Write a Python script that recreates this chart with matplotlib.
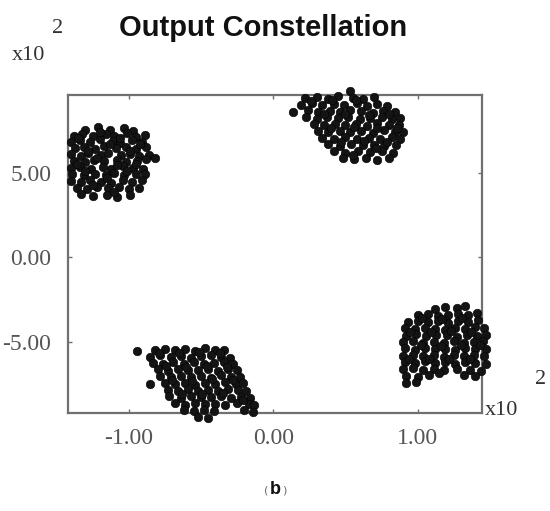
import matplotlib
matplotlib.use("Agg")
from matplotlib import pyplot as plt
from matplotlib.ticker import FormatStrFormatter

plt.rcParams['axes.unicode_minus'] = False

# received symbols (units of x10^2)
# top-left cluster
tl_x = [-1.30, -1.21, -1.13, -1.03, -0.97,
        -1.38, -1.32, -1.25, -1.16, -1.10, -1.01, -0.95, -0.89,
        -1.40, -1.34, -1.27, -1.20, -1.11, -1.06, -0.98, -0.91,
        -1.37, -1.31, -1.23, -1.17, -1.09, -1.02, -0.95, -0.88,
        -1.40, -1.33, -1.28, -1.19, -1.14, -1.05, -0.99, -0.93, -0.86,
        -1.38, -1.30, -1.24, -1.17, -1.08, -1.02, -0.94, -0.88, -0.82,
        -1.40, -1.34, -1.26, -1.18, -1.12, -1.04, -0.97, -0.90,
        -1.39, -1.31, -1.23, -1.16, -1.10, -1.03, -0.95, -0.89,
        -1.40, -1.33, -1.27, -1.19, -1.12, -1.04, -0.98, -0.91,
        -1.36, -1.29, -1.22, -1.14, -1.07, -1.00, -0.93,
        -1.33, -1.25, -1.15, -1.08, -0.99,
        -1.35, -1.20, -1.06, -0.92, -1.28, -1.13, -0.99, -1.36,
        -1.22, -1.08, -0.95, -1.30, -1.15, -1.01, -1.25, -1.10]
tl_y = [7.55, 7.68, 7.52, 7.62, 7.45,
        7.20, 7.31, 7.15, 7.28, 7.18, 7.34, 7.12, 7.22,
        6.85, 6.95, 6.80, 6.98, 6.88, 6.78, 6.93, 6.84,
        6.48, 6.55, 6.42, 6.58, 6.45, 6.52, 6.40, 6.50,
        6.10, 6.02, 6.15, 6.05, 6.18, 6.08, 6.12, 6.00, 6.06,
        5.72, 5.65, 5.78, 5.68, 5.74, 5.62, 5.70, 5.80, 5.85,
        5.28, 5.35, 5.22, 5.32, 5.25, 5.38, 5.30, 5.20,
        4.92, 4.85, 4.95, 4.88, 4.98, 4.86, 4.93, 4.90,
        4.52, 4.45, 4.55, 4.48, 4.42, 4.56, 4.47, 4.60,
        4.12, 4.05, 4.15, 4.08, 4.18, 4.02, 4.10,
        3.72, 3.62, 3.70, 3.58, 3.68,
        7.05, 7.42, 7.08, 6.70, 6.30, 6.68, 6.27, 5.50,
        5.90, 5.48, 5.52, 5.10, 4.70, 5.08, 4.30, 3.88]

# top-right cluster
tr_x = [0.53,
        0.22, 0.30, 0.38, 0.45, 0.55, 0.62, 0.70,
        0.19, 0.27, 0.34, 0.42, 0.49, 0.58, 0.65, 0.72, 0.79,
        0.14, 0.24, 0.31, 0.39, 0.46, 0.53, 0.61, 0.69, 0.76, 0.84,
        0.23, 0.30, 0.37, 0.45, 0.52, 0.60, 0.67, 0.75, 0.82, 0.88,
        0.28, 0.35, 0.43, 0.50, 0.57, 0.65, 0.72, 0.80, 0.87,
        0.31, 0.38, 0.46, 0.53, 0.61, 0.69, 0.77, 0.84, 0.90,
        0.34, 0.42, 0.50, 0.58, 0.66, 0.74, 0.82, 0.88,
        0.38, 0.46, 0.54, 0.62, 0.70, 0.77, 0.85,
        0.42, 0.50, 0.59, 0.67, 0.75, 0.83,
        0.48, 0.56, 0.64, 0.72, 0.80,
        0.26, 0.41, 0.57, 0.35, 0.50, 0.66, 0.80, 0.40,
        0.56, 0.72, 0.86, 0.47, 0.63, 0.79, 0.55, 0.71]
tr_y = [9.85,
        9.40, 9.50, 9.38, 9.55, 9.45, 9.35, 9.48,
        9.00, 9.10, 8.98, 9.08, 9.02, 9.12, 8.95, 9.05, 8.92,
        8.62, 8.70, 8.58, 8.68, 8.60, 8.72, 8.64, 8.55, 8.68, 8.60,
        8.28, 8.20, 8.30, 8.22, 8.32, 8.18, 8.26, 8.30, 8.20, 8.25,
        7.88, 7.80, 7.90, 7.82, 7.86, 7.78, 7.92, 7.84, 7.80,
        7.48, 7.40, 7.50, 7.42, 7.46, 7.38, 7.52, 7.44, 7.40,
        7.08, 7.00, 7.10, 7.02, 7.06, 6.98, 7.10, 7.02,
        6.68, 6.60, 6.70, 6.62, 6.66, 6.58, 6.64,
        6.28, 6.20, 6.30, 6.22, 6.26, 6.18,
        5.88, 5.80, 5.85, 5.78, 5.86,
        9.25, 9.28, 9.30, 8.45, 8.48, 8.42, 8.45, 7.65,
        7.68, 7.62, 7.66, 6.85, 6.88, 6.82, 6.05, 6.45]

# bottom-left cluster
bl_x = [-0.94, -0.82, -0.75, -0.68, -0.61, -0.54, -0.47, -0.40, -0.34,
        -0.85, -0.78, -0.71, -0.64, -0.57, -0.50, -0.43, -0.36, -0.30,
        -0.83, -0.76, -0.69, -0.62, -0.55, -0.48, -0.41, -0.34, -0.28,
        -0.80, -0.73, -0.66, -0.59, -0.52, -0.45, -0.38, -0.31, -0.25,
        -0.78, -0.71, -0.64, -0.57, -0.50, -0.43, -0.36, -0.29, -0.23,
        -0.85, -0.75, -0.68, -0.61, -0.54, -0.47, -0.40, -0.33, -0.26, -0.21,
        -0.73, -0.66, -0.59, -0.52, -0.45, -0.38, -0.31, -0.24, -0.19,
        -0.72, -0.64, -0.57, -0.50, -0.43, -0.36, -0.29, -0.22, -0.16,
        -0.68, -0.61, -0.54, -0.47, -0.40, -0.33, -0.25, -0.17, -0.13,
        -0.62, -0.55, -0.48, -0.41, -0.20, -0.14,
        -0.52, -0.45,
        -0.79, -0.65, -0.51, -0.37, -0.74, -0.60, -0.46, -0.32,
        -0.70, -0.56, -0.42, -0.28, -0.63, -0.49, -0.35, -0.21]
bl_y = [-5.55, -5.48, -5.40, -5.50, -5.42, -5.52, -5.38, -5.46, -5.50,
        -5.88, -5.80, -5.90, -5.82, -5.92, -5.84, -5.78, -5.88, -5.95,
        -6.22, -6.30, -6.20, -6.28, -6.18, -6.32, -6.24, -6.20, -6.30,
        -6.62, -6.70, -6.60, -6.68, -6.64, -6.58, -6.72, -6.62, -6.68,
        -7.02, -7.10, -7.00, -7.08, -7.04, -7.12, -6.98, -7.06, -7.10,
        -7.50, -7.42, -7.48, -7.40, -7.52, -7.44, -7.46, -7.38, -7.50, -7.45,
        -7.82, -7.90, -7.80, -7.88, -7.84, -7.92, -7.80, -7.86, -7.90,
        -8.22, -8.30, -8.20, -8.28, -8.24, -8.18, -8.32, -8.26, -8.30,
        -8.62, -8.70, -8.60, -8.68, -8.64, -8.72, -8.60, -8.66, -8.70,
        -9.02, -9.10, -9.00, -9.08, -9.05, -9.12,
        -9.42, -9.50,
        -5.65, -5.68, -5.62, -5.66, -6.45, -6.48, -6.42, -6.46,
        -7.25, -7.28, -7.22, -7.26, -8.05, -8.08, -8.02, -8.45]

# bottom-right cluster
br_x = [1.12, 1.19, 1.27, 1.33,
        1.00, 1.07, 1.14, 1.21, 1.28, 1.35, 1.41,
        0.93, 1.00, 1.07, 1.14, 1.21, 1.28, 1.35, 1.42,
        0.91, 0.98, 1.05, 1.12, 1.19, 1.26, 1.33, 1.40, 1.46,
        0.92, 0.99, 1.06, 1.13, 1.20, 1.27, 1.34, 1.41, 1.47,
        0.90, 0.97, 1.04, 1.11, 1.18, 1.25, 1.32, 1.39, 1.45,
        0.91, 0.98, 1.05, 1.12, 1.19, 1.26, 1.33, 1.40, 1.47,
        0.90, 0.97, 1.04, 1.11, 1.18, 1.25, 1.32, 1.39, 1.46,
        0.91, 0.98, 1.05, 1.12, 1.19, 1.26, 1.33, 1.40, 1.47,
        0.90, 0.97, 1.04, 1.11, 1.18, 1.27, 1.36, 1.44,
        0.92, 1.00, 1.08, 1.32, 1.40,
        0.92, 0.99,
        1.03, 1.17, 1.31, 0.95, 1.09, 1.23, 1.37, 1.02,
        1.16, 1.30, 1.43, 0.94, 1.08, 1.22, 1.36, 1.15]
br_y = [-3.05, -2.95, -3.02, -2.90,
        -3.42, -3.35, -3.45, -3.38, -3.32, -3.40, -3.30,
        -3.82, -3.75, -3.85, -3.78, -3.88, -3.74, -3.80, -3.72,
        -4.18, -4.25, -4.15, -4.22, -4.28, -4.16, -4.24, -4.12, -4.20,
        -4.62, -4.55, -4.65, -4.58, -4.60, -4.68, -4.56, -4.62, -4.58,
        -5.02, -4.95, -5.05, -4.98, -5.08, -4.96, -5.04, -5.00, -4.94,
        -5.38, -5.45, -5.35, -5.42, -5.40, -5.48, -5.36, -5.44, -5.40,
        -5.82, -5.75, -5.85, -5.78, -5.88, -5.76, -5.84, -5.80, -5.86,
        -6.18, -6.25, -6.15, -6.22, -6.20, -6.28, -6.16, -6.24, -6.30,
        -6.62, -6.55, -6.65, -6.58, -6.68, -6.60, -6.64, -6.70,
        -7.00, -7.08, -6.98, -6.95, -7.02,
        -7.40, -7.35,
        -3.60, -3.62, -3.58, -4.40, -4.42, -4.38, -4.40, -5.20,
        -5.22, -5.18, -5.20, -6.00, -6.02, -5.98, -6.00, -6.85]

xticks = [-1.0, 0.0, 1.0]
yticks = [-5.0, 0.0, 5.0]

fig = plt.figure(figsize=(5.5, 5.11), dpi=100)
ax = fig.add_axes([0.1236, 0.1918, 0.7527, 0.6223])

for cx, cy in [(tl_x, tl_y), (tr_x, tr_y), (bl_x, bl_y), (br_x, br_y)]:
    ax.scatter(cx, cy, s=38, c='#141414', edgecolors='#000000',
               linewidths=0.4, clip_on=False, zorder=3)

ax.set_xlim(-1.42, 1.445)
ax.set_ylim(-9.2, 9.6)
ax.set_xticks(xticks)
ax.set_yticks(yticks)
ax.xaxis.set_major_formatter(FormatStrFormatter('%.2f'))
ax.yaxis.set_major_formatter(FormatStrFormatter('%.2f'))

for sp in ax.spines.values():
    sp.set_color('#707070')
    sp.set_linewidth(1.6)
ax.tick_params(direction='in', length=3, width=1, color='#707070',
               top=True, right=True, labelcolor='#555555',
               labelsize=17)
ax.tick_params(axis='x', pad=11)
ax.tick_params(axis='y', pad=12)
for lab in ax.get_xticklabels() + ax.get_yticklabels():
    lab.set_family('Liberation Serif')

fig.text(0.479, 0.945, "Output Constellation", ha='center', va='center',
         fontsize=21, fontweight='bold', family='Liberation Sans',
         color='#111111')

# exponent labels
fig.text(0.022, 0.891, "x10", ha='left', va='center', fontsize=16,
         family='Liberation Serif', color='#333333')
fig.text(0.104, 0.945, "2", ha='center', va='center', fontsize=16,
         family='Liberation Serif', color='#333333')
fig.text(0.882, 0.196, "x10", ha='left', va='center', fontsize=16,
         family='Liberation Serif', color='#333333')
fig.text(0.982, 0.258, "2", ha='center', va='center', fontsize=16,
         family='Liberation Serif', color='#333333')

# panel label
fig.text(0.484, 0.040, "(", ha='center', va='center', fontsize=8, color='#666666')
fig.text(0.500, 0.042, "b", ha='center', va='center', fontsize=13,
         fontweight='bold', family='Liberation Sans', color='#111111')
fig.text(0.516, 0.040, ")", ha='center', va='center', fontsize=8, color='#666666')

fig.savefig("out.png", dpi=100)
